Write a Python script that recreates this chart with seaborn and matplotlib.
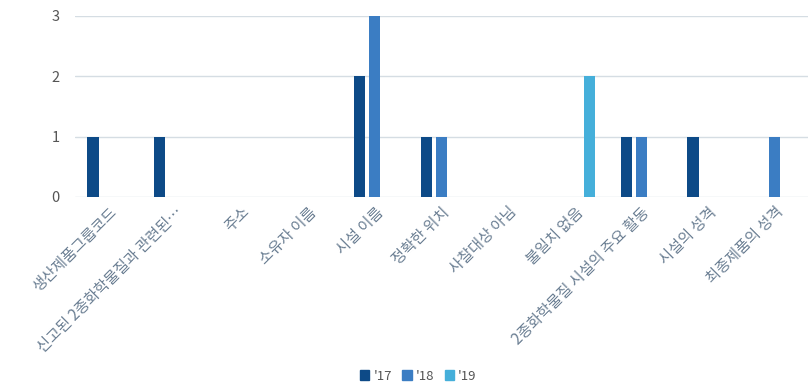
import matplotlib
matplotlib.use("Agg")
import matplotlib.pyplot as plt
import seaborn as sns
import pandas as pd
from matplotlib.patches import Patch

categories = ["생산제품그룹코드", "신고된 2종화학물질과 관련된…", "주소", "소유자 이름", "시설 이름",
              "정확한 위치", "사찰대상 아님", "불일치 없음", "2종화학물질 시설의 주요 활동",
              "시설의 성격", "최종제품의 성격"]
years = ["'17", "'18", "'19"]
v17 = [1, 1, 0, 0, 2, 1, 0, 0, 1, 1, 0]
v18 = [0, 0, 0, 0, 3, 1, 0, 0, 1, 0, 1]
v19 = [0, 0, 0, 0, 0, 0, 0, 2, 0, 0, 0]
colors = ["#0d4a87", "#3b7dc3", "#45afda"]

rows = []
for y, vals in zip(years, [v17, v18, v19]):
    for c, v in zip(categories, vals):
        rows.append({"cat": c, "year": y, "val": v})
df = pd.DataFrame(rows)

sns.set_theme(style="white")
plt.rcParams['font.family'] = ['Noto Sans CJK KR', 'DejaVu Sans']

fig = plt.figure(figsize=(8.12, 3.89), dpi=100)
ax = fig.add_axes([0.092, 0.494, 0.903, 0.465])
sns.barplot(data=df, x="cat", y="val", hue="year", palette=colors, ax=ax,
            width=0.68, gap=0.25, legend=False, errorbar=None, order=categories,
            hue_order=years, saturation=1, linewidth=0)
ax.set_ylim(0, 3)
ax.set_xlim(-0.5, len(categories) - 0.5)
ax.set_yticks([0, 1, 2, 3])
ax.yaxis.grid(True, color="#d5dde3", linewidth=1)
ax.set_axisbelow(True)
for s in ax.spines.values():
    s.set_visible(False)
ax.set_xlabel("")
ax.set_ylabel("")
ax.tick_params(axis="y", length=0, pad=11, labelsize=10.5, labelcolor="#555555")
ax.tick_params(axis="x", length=0, pad=5, labelsize=11, labelcolor="#6b7f93")
ax.set_xticks(range(len(categories)))
ax.set_xticklabels(categories, rotation=45, ha="right", rotation_mode="anchor")

handles = [Patch(color=c, label=y) for c, y in zip(colors, years)]
fig.legend(handles=handles, loc="center", bbox_to_anchor=(0.515, 0.033), ncol=3,
           frameon=False, handlelength=0.7, handleheight=0.7, handletextpad=0.3,
           columnspacing=0.8, fontsize=9.5, labelcolor="#555555")

fig.savefig("out.png", dpi=100)
